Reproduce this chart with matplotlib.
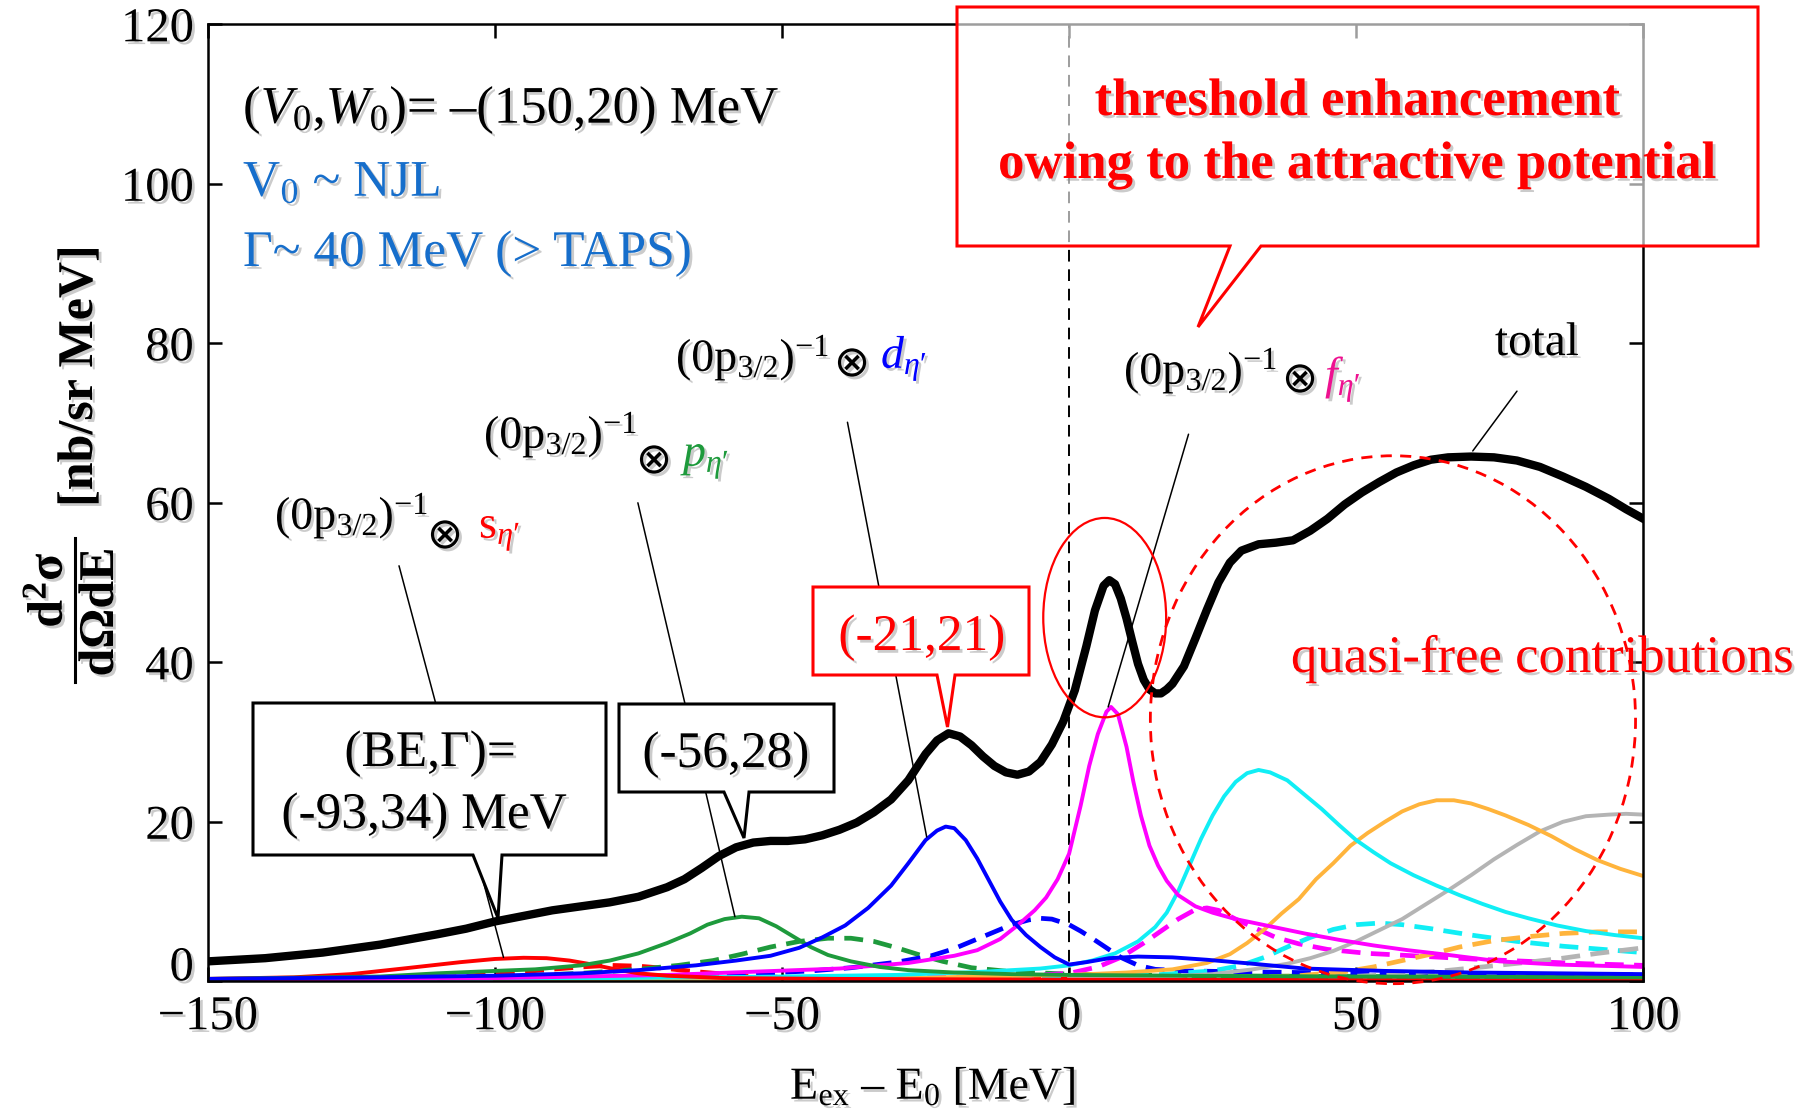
import numpy as np
import matplotlib.pyplot as plt
import matplotlib.patheffects as pe
import matplotlib.transforms as mtransforms
from matplotlib.patches import Polygon, Ellipse

# ---- curve data ----
total_x = [-150, -140, -130, -120, -110, -105, -100, -95, -90, -85, -80, -75, -70, -67, -64, -61,
           -58, -55, -52, -49, -46, -43, -40, -37, -34, -31, -28, -25, -23, -21, -19, -17, -15,
           -13, -11, -9, -7, -5, -3, -1, 1, 3, 4.5, 6, 7, 8, 9, 10, 11, 12, 13, 14, 15, 16, 17,
           18, 20, 22, 24, 26, 28, 30, 33, 36, 39, 42, 45, 48, 51, 54, 57, 60, 63, 66, 70, 74, 78,
           82, 86, 90, 94, 97, 100]
total_y = [2.5, 2.9, 3.6, 4.6, 5.9, 6.6, 7.5, 8.2, 8.9, 9.4, 9.9, 10.6, 11.8, 12.8, 14.2, 15.7,
           16.8, 17.4, 17.6, 17.6, 17.8, 18.3, 19.0, 19.9, 21.2, 22.8, 25.2, 28.5, 30.2, 31.1, 30.7,
           29.6, 28.2, 27.0, 26.2, 25.9, 26.3, 27.5, 29.7, 32.6, 36.5, 42.0, 46.5, 49.6, 50.3, 49.8,
           48.0, 45.5, 42.6, 39.8, 37.8, 36.6, 36.1, 36.1, 36.6, 37.3, 39.5, 43.0, 46.6, 50.0, 52.5,
           54.0, 54.8, 55.0, 55.3, 56.5, 58.0, 59.8, 61.3, 62.6, 63.8, 64.7, 65.4, 65.7, 65.8, 65.7,
           65.3, 64.5, 63.3, 62.0, 60.5, 59.2, 58.0]

s_x = [-150, -135, -125, -116, -111, -106, -100, -95, -91, -87, -83, -79, -75, -70, -60, -40, 0, 100]
s_y = [0.3, 0.5, 0.9, 1.6, 2.0, 2.4, 2.8, 2.95, 2.9, 2.6, 2.1, 1.5, 1.0, 0.7, 0.4, 0.3, 0.2, 0.1]
s_dash_x = [-110, -100, -92, -85, -80, -75, -70, -65, -60, -55, -45, -30, 100]
s_dash_y = [0.4, 0.9, 1.4, 1.8, 2.0, 1.9, 1.6, 1.2, 0.9, 0.6, 0.4, 0.3, 0.2]

p_x = [-150, -120, -110, -100, -93, -85, -80, -75, -70, -66, -63, -60, -57, -54, -51, -48, -45,
       -42, -38, -33, -28, -20, -10, 0, 20, 50, 100]
p_y = [0.3, 0.6, 1.0, 1.3, 1.5, 2.0, 2.6, 3.5, 4.8, 6.0, 7.1, 7.8, 8.1, 7.9, 6.9, 5.6, 4.3,
       3.3, 2.5, 1.8, 1.4, 1.1, 0.9, 0.8, 0.7, 0.6, 0.5]
p_dash_x = [-110, -95, -85, -75, -68, -62, -57, -52, -47, -42, -38, -34, -30, -26, -22, -17, -10,
            0, 20, 50, 100]
p_dash_y = [0.4, 0.7, 1.0, 1.5, 2.0, 2.6, 3.4, 4.3, 5.0, 5.4, 5.4, 5.0, 4.2, 3.3, 2.5, 1.7, 1.2,
            0.9, 0.7, 0.6, 0.5]

d_x = [-150, -120, -100, -85, -75, -65, -58, -52, -47, -43, -39, -37, -35, -31, -28, -25, -23,
       -21.5, -20, -18, -16, -14, -12, -10, -7.5, -5, -2.5, 0, 3, 7, 12, 18, 24, 32, 41, 55, 70, 100]
d_y = [0.3, 0.5, 0.7, 1.0, 1.4, 2.0, 2.6, 3.2, 4.2, 5.5, 7.0, 8.1, 9.2, 12.0, 14.8, 17.7, 18.9,
       19.4, 19.2, 17.7, 15.4, 12.7, 10.0, 7.7, 5.8, 4.3, 3.0, 2.1, 2.4, 2.9, 3.1, 3.0, 2.7, 2.2,
       1.6, 1.3, 1.1, 0.9]
d_dash_x = [-80, -60, -45, -38, -30, -24, -20, -16, -13, -10, -7, -5, -3, 0, 2, 4, 6.5, 9, 12,
            15, 20, 30, 50, 70, 100]
d_dash_y = [0.4, 0.8, 1.3, 1.7, 2.4, 3.2, 4.1, 5.3, 6.2, 7.1, 7.7, 7.9, 7.8, 7.1, 6.3, 5.4, 4.2,
            3.0, 2.0, 1.5, 1.3, 1.2, 1.0, 0.9, 0.8]

f_x = [-150, -100, -70, -55, -40, -28, -20, -16, -12, -9, -6, -4, -2, 0, 2, 3.5, 5, 6.5, 7.3,
       8.5, 10, 11.2, 12.5, 14, 15.5, 17, 19, 22, 25, 29, 33, 37, 41, 47, 53, 59, 65, 75, 85, 100]
f_y = [0.2, 0.4, 0.8, 1.2, 1.6, 2.3, 3.2, 3.9, 5.3, 7.0, 8.9, 10.5, 12.8, 16.0, 22.0, 27.0,
       31.0, 33.8, 34.4, 33.5, 29.4, 25.0, 20.8, 17.0, 14.5, 12.6, 10.8, 9.4, 8.6, 7.8, 7.2,
       6.6, 6.0, 5.2, 4.5, 3.9, 3.4, 2.5, 2.1, 1.8]
f_dash_x = [-40, -10, 0, 5, 9, 13, 16, 19, 22, 24, 26, 29, 32, 36, 40, 45, 52, 60, 70, 80, 90, 100]
f_dash_y = [0.3, 0.6, 1.0, 1.8, 3.0, 4.8, 6.3, 7.8, 9.0, 9.2, 8.9, 7.8, 6.8, 5.5, 4.7, 4.0, 3.5,
            3.2, 2.8, 2.5, 2.2, 2.0]

qf1_x = [-150, -80, -50, -30, -15, -5, 0, 4, 8, 12, 15, 17, 19, 21, 23, 25, 27, 29, 31, 33, 35,
         38, 41, 44, 47, 50, 53, 56, 60, 64, 68, 72, 76, 80, 85, 90, 95, 100]
qf1_y = [0.2, 0.4, 0.6, 0.8, 1.2, 1.6, 2.0, 2.6, 3.5, 5.0, 6.8, 8.6, 11.3, 14.6, 17.9, 20.8,
         23.2, 25.0, 26.1, 26.5, 26.2, 25.2, 23.4, 21.6, 19.6, 17.7, 16.2, 14.8, 13.3, 12.0,
         10.8, 9.7, 8.7, 7.9, 7.0, 6.3, 5.8, 5.4]
qf1_dash_x = [-20, 0, 15, 25, 30, 34, 38, 42, 46, 50, 54, 58, 63, 70, 78, 86, 93, 100]
qf1_dash_y = [0.3, 0.5, 0.8, 1.3, 2.0, 3.0, 4.3, 5.5, 6.5, 7.1, 7.3, 7.1, 6.6, 5.8, 5.0, 4.4, 4.0, 3.6]

qf2_x = [-100, -30, 0, 10, 18, 24, 28, 31, 34, 37, 40, 43, 46, 49, 52, 55, 58, 61, 64, 67, 70,
         73, 76, 80, 84, 88, 92, 96, 100]
qf2_y = [0.2, 0.4, 0.8, 1.1, 1.5, 2.3, 3.4, 4.8, 6.5, 8.5, 10.3, 12.8, 14.8, 17.0, 18.6, 20.0,
         21.3, 22.2, 22.7, 22.7, 22.3, 21.6, 20.8, 19.6, 18.2, 16.6, 15.2, 14.1, 13.2]
qf2_dash_x = [30, 40, 48, 53, 58, 63, 68, 74, 80, 86, 92, 100]
qf2_dash_y = [0.4, 0.7, 1.2, 1.8, 2.6, 3.4, 4.3, 5.1, 5.6, 6.0, 6.2, 6.2]

qf3_x = [0, 15, 25, 32, 38, 42, 46, 50, 54, 58, 62, 66, 70, 74, 78, 82, 86, 90, 94, 97, 100]
qf3_y = [0.3, 0.5, 0.9, 1.5, 2.2, 2.9, 3.8, 5.0, 6.4, 7.8, 9.6, 11.4, 13.3, 15.3, 17.1, 18.8,
         20.0, 20.7, 20.9, 21.0, 20.9]
qf3_dash_x = [40, 55, 65, 72, 80, 86, 92, 100]
qf3_dash_y = [0.3, 0.8, 1.3, 1.8, 2.4, 2.9, 3.5, 4.2]

x_ticks = [-150, -100, -50, 0, 50, 100]
y_ticks = [0, 20, 40, 60, 80, 100, 120]

# ---- style ----
plt.rcParams['font.family'] = ['Liberation Serif', 'DejaVu Sans']
plt.rcParams['mathtext.fontset'] = 'custom'
plt.rcParams['mathtext.rm'] = 'Liberation Serif'
plt.rcParams['mathtext.it'] = 'Liberation Serif:italic'
plt.rcParams['mathtext.bf'] = 'Liberation Serif:bold'
plt.rcParams['mathtext.fallback'] = 'stix'

W, H = 1812, 1112


def fp(X, Y):
    # pixel position in the picture -> figure fraction
    return (X / W, 1 - Y / H)


shadow = [pe.withSimplePatchShadow(offset=(2, -2), shadow_rgbFace='0.55', alpha=0.45)]

RED = '#ff0000'
GREEN = '#1e9a3c'
BLUE = '#0000ff'
MAGENTA = '#ff00ff'
CYAN = '#11eef5'
ORANGE = '#ffb43c'
GRAY = '#b4b4b4'
TXT_BLUE = '#166ecb'
PINK = '#ee1190'

fig = plt.figure(figsize=(W / 100, H / 100), dpi=100)
ax = fig.add_axes([207.8 / W, (H - 981.3) / H, (1643.3 - 207.8) / W, (981.3 - 24.3) / H])

solid_lw = 2.8
dash_lw = 3.4
dash_ls = (0, (4, 2.2))

# colored components, dashed first
for xs, ys, c in [(s_dash_x, s_dash_y, RED), (p_dash_x, p_dash_y, GREEN), (d_dash_x, d_dash_y, BLUE),
                  (f_dash_x, f_dash_y, MAGENTA), (qf1_dash_x, qf1_dash_y, CYAN),
                  (qf2_dash_x, qf2_dash_y, ORANGE), (qf3_dash_x, qf3_dash_y, GRAY)]:
    ax.plot(xs, ys, color=c, lw=dash_lw, ls=dash_ls, zorder=2)

for xs, ys, c in [(qf3_x, qf3_y, GRAY), (qf2_x, qf2_y, ORANGE), (qf1_x, qf1_y, CYAN),
                  (f_x, f_y, MAGENTA), (s_x, s_y, RED), (p_x, p_y, GREEN), (d_x, d_y, BLUE)]:
    ax.plot(xs, ys, color=c, lw=solid_lw, zorder=2.2)

ax.plot(total_x, total_y, color='black', lw=6, zorder=3)

ax.axvline(0, color='black', lw=1.4, ls=(0, (6, 4)), zorder=1.5)

ax.set_xlim(-150, 100)
ax.set_ylim(0, 120)
ax.set_xticks(x_ticks)
ax.set_yticks(y_ticks)
ax.tick_params(direction='in', length=10, width=1.8, labelsize=35, top=True, right=True, pad=10)
for sp in ax.spines.values():
    sp.set_linewidth(1.8)
for lbl in ax.get_xticklabels() + ax.get_yticklabels():
    lbl.set_path_effects(shadow)
# the "0" of the y axis sits a little higher in the original
ylab0 = ax.get_yticklabels()[0]
ylab0.set_transform(ylab0.get_transform() +
                    mtransforms.ScaledTranslation(0, 0.18, fig.dpi_scale_trans))

# ellipse around the threshold peak and the quasi-free circle
ax.add_patch(Ellipse((6.2, 45.6), 21.4, 25.0, fill=False, ec=RED, lw=1.6, zorder=4))
ax.add_patch(Ellipse((56.4, 32.8), 84.5, 66.2, fill=False, ec=RED, lw=2.0, ls=(0, (4, 3)),
                     zorder=4, clip_on=False))

# leader lines from the labels to the peaks
leaders = [((-98.5, 3.0), (-116.7, 52.1)), ((-58.2, 8.1), (-75.1, 60.0)),
           ((-24.8, 18.1), (-38.6, 70.1)), ((6.8, 34.4), (20.8, 68.6)), ((70.3, 66.5), (78.0, 74.0))]
for tip, start in leaders:
    ax.annotate('', xy=tip, xytext=start, arrowprops=dict(arrowstyle='-', lw=1.1, color='black',
                                                          shrinkA=0, shrinkB=0), zorder=3.5)


def callout(L, R, T, B, b1, b2, tip, ec, face, lw):
    pts = [fp(L, T), fp(R, T), fp(R, B), fp(b2, B), fp(*tip), fp(b1, B), fp(L, B)]
    poly = Polygon(pts, closed=True, transform=fig.transFigure, fc=face, ec=ec, lw=lw,
                   clip_on=False, zorder=5, joinstyle='miter')
    ax.add_patch(poly)


callout(253, 606, 703, 855, 473, 502, (498, 918), 'black', 'white', 2.2)
callout(619, 834, 704, 792, 724, 749, (744, 838), 'black', 'white', 2.2)
callout(813, 1029, 587, 675, 937, 955, (947.5, 727), RED, 'white', 2.2)
callout(957, 1758, 7, 246, 1230, 1261, (1198, 327), RED, (1, 1, 1, 0.62), 2.2)

# ---- texts ----
def t(X, Y, s, **kw):
    kw.setdefault('fontsize', 33)
    kw.setdefault('va', 'baseline')
    kw.setdefault('ha', 'left')
    return fig.text(*fp(X, Y), s, path_effects=shadow, **kw)


t(243, 123, r'($V_0$,$W_0$)= –(150,20) MeV', fontsize=38)
t(243, 196, r'V$_0$ ~ NJL', color=TXT_BLUE, fontsize=37)
t(243, 266, r'Γ~ 40 MeV (> TAPS)', color=TXT_BLUE, fontsize=37)

otimes = dict(ha='center', va='center', fontsize=31, family=['DejaVu Sans'])
t(275, 529, r'(0p$_{3/2}$)$^{-1}$')
t(445, 536, '⊗', **otimes)
t(479, 538, r's$_{\eta\prime}$', color=RED)

t(484, 448, r'(0p$_{3/2}$)$^{-1}$')
t(654, 461, '⊗', **otimes)
t(683, 466, r'$p_{\eta\prime}$', color=GREEN)

t(676, 371, r'(0p$_{3/2}$)$^{-1}$')
t(852, 364, '⊗', **otimes)
t(881, 368, r'$d_{\eta\prime}$', color=BLUE)

t(1124, 384, r'(0p$_{3/2}$)$^{-1}$')
t(1300, 380, '⊗', **otimes)
t(1325, 389, r'$f_{\eta\prime}$', color=PINK)

t(1537, 355, 'total', ha='center', fontsize=34)

t(430, 766, '(BE,Γ)=', ha='center', fontsize=37)
t(424, 828, '(-93,34) MeV', ha='center', fontsize=37)
t(726, 767, '(-56,28)', ha='center', fontsize=37)
t(922, 650, '(-21,21)', ha='center', fontsize=37, color=RED)

t(1357, 115, 'threshold enhancement', ha='center', fontsize=38, fontweight='bold', color=RED)
t(1357, 178, 'owing to the attractive potential', ha='center', fontsize=38,
  fontweight='bold', color=RED)
t(1542, 672, 'quasi-free contributions', ha='center', fontsize=38, color=RED)

# axis labels
t(933, 1099, r'E$_{\rm ex}$ – E$_0$ [MeV]', ha='center', fontsize=33)
t(80, 376, '[nb/sr MeV]', ha='center', va='center', rotation=90, fontsize=36, fontweight='bold')
t(50, 590, r'd$^{\mathbf{2}}$σ', ha='center', va='center', rotation=90, fontsize=36,
  fontweight='bold')
t(101, 612, 'dΩdE', ha='center', va='center', rotation=90, fontsize=36, fontweight='bold')
fig.add_artist(plt.Line2D([75 / W, 75 / W], [1 - 538 / H, 1 - 682 / H], color='black', lw=2.2,
                          transform=fig.transFigure))

fig.savefig('out.png', dpi=100)
